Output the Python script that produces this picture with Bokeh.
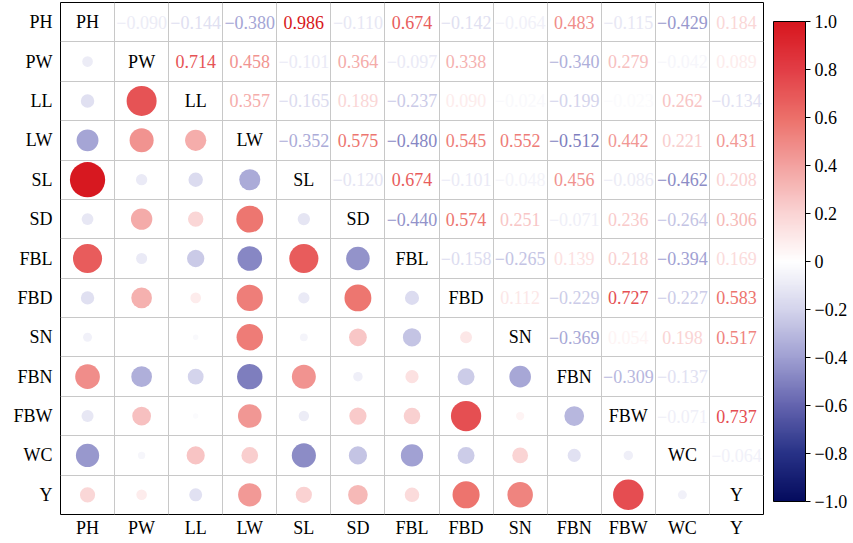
import numpy as np
from bokeh.plotting import figure
from bokeh.models import (Range1d, LinearColorMapper, ColorBar, FixedTicker, ColumnDataSource)
from bokeh.transform import transform
from bokeh.core.properties import value
from bokeh.embed import file_html
from bokeh.resources import INLINE

names = ["PH", "PW", "LL", "LW", "SL", "SD", "FBL", "FBD", "SN", "FBN", "FBW", "WC", "Y"]

# upper-triangle correlations (row variable vs. following variables); None = blank
r_PH = [-0.090, -0.144, -0.380, 0.986, -0.110, 0.674, -0.142, -0.064, 0.483, -0.115, -0.429, 0.184]
r_PW = [0.714, 0.458, -0.101, 0.364, -0.097, 0.338, None, -0.340, 0.279, -0.042, 0.089]
r_LL = [0.357, -0.165, 0.189, -0.237, 0.090, -0.024, -0.199, -0.023, 0.262, -0.134]
r_LW = [-0.352, 0.575, -0.480, 0.545, 0.552, -0.512, 0.442, 0.221, 0.431]
r_SL = [-0.120, 0.674, -0.101, -0.048, 0.456, -0.086, -0.462, 0.208]
r_SD = [-0.440, 0.574, 0.251, -0.071, 0.236, -0.264, 0.306]
r_FBL = [-0.158, -0.265, 0.139, 0.218, -0.394, 0.169]
r_FBD = [0.112, -0.229, 0.727, -0.227, 0.583]
r_SN = [-0.369, 0.054, 0.198, 0.517]
r_FBN = [-0.309, -0.137, None]
r_FBW = [-0.071, 0.737]
r_WC = [-0.064]
upper_rows = [r_PH, r_PW, r_LL, r_LW, r_SL, r_SD, r_FBL, r_FBD, r_SN, r_FBN, r_FBW, r_WC, []]

cbar_ticks = [-1.0, -0.8, -0.6, -0.4, -0.2, 0.0, 0.2, 0.4, 0.6, 0.8, 1.0]
cbar_labels = ["\u22121.0", "\u22120.8", "\u22120.6", "\u22120.4", "\u22120.2", "0",
               "0.2", "0.4", "0.6", "0.8", "1.0"]

# colour palette (navy - white - red)
anchors_v = [-1.0, -0.8, -0.6, -0.4, -0.2, 0.0, 0.2, 0.4, 0.6, 0.8, 1.0]
anchors_c = [(5, 12, 94), (40, 50, 135), (100, 100, 175), (160, 160, 210), (212, 212, 236),
             (255, 255, 255), (250, 212, 212), (243, 162, 160), (236, 112, 106),
             (226, 62, 70), (215, 22, 30)]
vs = np.linspace(-1, 1, 256)
arr = np.array(anchors_c, dtype=float)
palette = []
for v in vs:
    rgb = [np.interp(v, anchors_v, arr[:, k]) for k in range(3)]
    palette.append("#%02x%02x%02x" % tuple(int(round(c)) for c in rgb))

mapper = LinearColorMapper(palette=palette, low=-1, high=1)

n = len(names)
cx, cy, cr, csz = [], [], [], []
tx, ty, tr, tt = [], [], [], []
for i in range(n):
    for k, r in enumerate(upper_rows[i]):
        j = i + 1 + k
        if r is None:
            continue
        tx.append(j + 1); ty.append(i + 1); tr.append(r)
        tt.append(("%.3f" % r).replace("-", "\u2212"))
        cx.append(i + 1); cy.append(j + 1); cr.append(r)
        csz.append(35.5 * np.sqrt(abs(r)))

circ_src = ColumnDataSource(dict(x=cx, y=cy, r=cr, size=csz))
text_src = ColumnDataSource(dict(x=tx, y=ty, r=tr, t=tt))
diag_src = ColumnDataSource(dict(x=list(range(1, n + 1)), y=list(range(1, n + 1)), t=names))

FONT = "Liberation Serif"

p = figure(width=850, height=540, x_range=Range1d(0.5, n + 0.5), y_range=Range1d(n + 0.5, 0.5),
           output_backend="svg", toolbar_location=None, min_border_left=60,
           min_border_top=2, min_border_right=0, min_border_bottom=0)

p.outline_line_color = "black"
p.outline_line_width = 1
p.outline_line_alpha = 1

half = [k + 0.5 for k in range(1, n)]
for g in (p.xgrid, p.ygrid):
    g.ticker = FixedTicker(ticks=half)
    g.grid_line_color = "#c8c8c8"
    g.grid_line_width = 1

for ax in (p.xaxis, p.yaxis):
    ax.ticker = FixedTicker(ticks=list(range(1, n + 1)))
    ax.major_label_overrides = {k + 1: nm for k, nm in enumerate(names)}
    ax.major_tick_line_color = None
    ax.minor_tick_line_color = None
    ax.axis_line_color = None
    ax.major_label_text_font = FONT
    ax.major_label_text_font_size = "18px"
    ax.major_label_text_color = "black"
    ax.major_tick_out = 0
    ax.major_tick_in = 0
p.yaxis.major_label_standoff = 8
p.xaxis.major_label_standoff = 3

p.scatter(x="x", y="y", size="size", source=circ_src, marker="circle",
          fill_color=transform("r", mapper), line_color=None)

p.text(x="x", y="y", text="t", source=text_src, text_align="center", text_baseline="middle",
       text_font=value(FONT), text_font_size="18px", text_color=transform("r", mapper))

p.text(x="x", y="y", text="t", source=diag_src, text_align="center", text_baseline="middle",
       text_font=value(FONT), text_font_size="18px", text_color="black")

cb = ColorBar(color_mapper=mapper, ticker=FixedTicker(ticks=cbar_ticks),
              major_label_overrides={t: l for t, l in zip(cbar_ticks, cbar_labels)},
              width=32, height=480, location=(10, 13), padding=0, margin=0,
              bar_line_color="black", bar_line_width=1,
              major_tick_line_color="black", major_tick_in=0, major_tick_out=5,
              major_label_text_font=FONT, major_label_text_font_size="18px",
              major_label_text_color="black", label_standoff=4,
              border_line_color=None, background_fill_color=None)
p.add_layout(cb, "right")

open("out.html", "w").write(file_html(p, INLINE))
